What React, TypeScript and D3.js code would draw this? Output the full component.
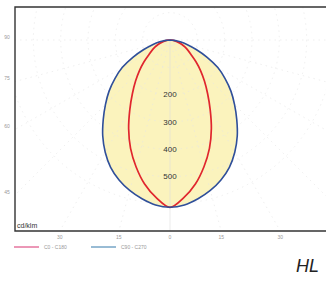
import * as d3 from 'd3';
import React, { useEffect, useRef } from 'react';

// gamma angles (deg) and intensities (cd/klm)
const gammas = [0, 5, 10, 15, 20, 25, 30, 35, 40, 45, 50, 55, 60, 65, 70, 75, 80, 85, 90];
const c0c180 = [612, 579, 535, 480, 422, 358, 294, 240, 196, 158, 124, 95, 76, 60, 45, 30, 18, 8, 0];
const c90c270 = [612, 606, 590, 570, 545, 514, 474, 429, 380, 334, 291, 246, 202, 150, 102, 66, 38, 15, 0];
const ringValues = [100, 200, 300, 400, 500, 600];
const ringLabels = [200, 300, 400, 500];
const leftAngles = [90, 75, 60, 45];
const bottomAngles = [-30, -15, 0, 15, 30];
const legendItems = ['C0 - C180', 'C90 - C270'];

const App = () => {
  const ref = useRef<SVGSVGElement>(null);

  useEffect(() => {
    const width = 326, height = 282;
    const frame = { left: 15, top: 7, right: 326, bottom: 231 };
    const cx = 170, cy = 40;

    const svg = d3.select(ref.current);
    svg.selectAll('*').remove();
    svg.attr('width', width).attr('height', height);

    const r = d3.scaleLinear().domain([0, 600]).range([0, 164]);
    const rad = (deg: number) => (deg * Math.PI) / 180;

    svg.append('clipPath').attr('id', 'frameClip')
      .append('rect')
      .attr('x', frame.left).attr('y', frame.top)
      .attr('width', frame.right - frame.left).attr('height', frame.bottom - frame.top);

    const g = svg.append('g').attr('clip-path', 'url(#frameClip)');
    const c = g.append('g').attr('transform', `translate(${cx},${cy})`);

    // closed outline: right half 90 -> 0, then left half 0 -> 90
    const closed = (vals: number[]) => {
      const pts: [number, number][] = [];
      for (let i = gammas.length - 1; i >= 0; i--) pts.push([Math.PI - rad(gammas[i]), r(vals[i])]);
      for (let i = 1; i < gammas.length; i++) pts.push([Math.PI + rad(gammas[i]), r(vals[i])]);
      return pts;
    };
    const line = d3.lineRadial<[number, number]>()
      .angle(d => d[0]).radius(d => d[1])
      .curve(d3.curveCatmullRom.alpha(0.5));

    c.append('path').attr('d', line(closed(c90c270))).attr('fill', '#fbf3bd').attr('stroke', 'none');

    // grid
    c.selectAll('.ring').data(ringValues).join('circle')
      .attr('r', d => r(d)).attr('fill', 'none')
      .attr('stroke', '#e4e4e4').attr('stroke-width', 0.6).attr('stroke-dasharray', '1.5,4');
    const spokes = d3.range(-90, 91, 15);
    c.selectAll('.spoke').data(spokes).join('line')
      .attr('x1', 0).attr('y1', 0)
      .attr('x2', d => Math.sin(rad(d)) * 400).attr('y2', d => Math.cos(rad(d)) * 400)
      .attr('stroke', d => d === 0 ? '#dedede' : '#e4e4e4').attr('stroke-width', 0.6)
      .attr('stroke-dasharray', d => d === 0 ? null : '1.5,4');

    c.append('path').attr('d', line(closed(c0c180))).attr('fill', 'none')
      .attr('stroke', '#e0262e').attr('stroke-width', 1.7);
    c.append('path').attr('d', line(closed(c90c270))).attr('fill', 'none')
      .attr('stroke', '#2f4f9a').attr('stroke-width', 1.6);

    c.selectAll('.rl').data(ringLabels).join('text')
      .attr('x', 0).attr('y', d => r(d)).attr('dy', '0.35em')
      .attr('text-anchor', 'middle').attr('font-family', 'Liberation Sans, Arial, sans-serif')
      .attr('font-size', 8).attr('fill', '#333').text(d => d);

    // frame
    svg.append('path')
      .attr('d', `M${frame.right},${frame.top}H${frame.left}V${frame.bottom}H${frame.right}`)
      .attr('fill', 'none').attr('stroke', '#333').attr('stroke-width', 1.4);

    svg.append('text').attr('x', 17).attr('y', 228)
      .attr('font-family', 'Liberation Sans, Arial, sans-serif').attr('font-size', 7).attr('fill', '#333')
      .text('cd/klm');

    // angle labels
    svg.selectAll('.la').data(leftAngles).join('text')
      .attr('x', 7).attr('y', d => cy + (cx - frame.left) / Math.tan(rad(d === 90 ? 89.999 : d)) - 3)
      .attr('dy', '0.35em').attr('text-anchor', 'middle')
      .attr('font-family', 'Liberation Sans, Arial, sans-serif').attr('font-size', 5).attr('fill', '#999')
      .text(d => d);
    svg.selectAll('.ba').data(bottomAngles).join('text')
      .attr('x', d => cx + Math.tan(rad(d)) * (frame.bottom - cy)).attr('y', 239)
      .attr('text-anchor', 'middle')
      .attr('font-family', 'Liberation Sans, Arial, sans-serif').attr('font-size', 5).attr('fill', '#999')
      .text(d => Math.abs(d));

    // legend
    const colors = ['#d8306e', '#3278aa'];
    const lg = svg.selectAll('.lg').data(legendItems).join('g')
      .attr('transform', (d, i) => `translate(${14 + i * 77},247)`);
    lg.append('line').attr('x1', 0).attr('x2', 25).attr('y1', 0).attr('y2', 0)
      .attr('stroke', (d, i) => colors[i]).attr('stroke-width', 1);
    lg.append('text').attr('x', 30).attr('y', 0).attr('dy', '0.35em')
      .attr('font-family', 'Liberation Sans, Arial, sans-serif').attr('font-size', 5).attr('fill', '#999')
      .text(d => d);

    svg.append('text').attr('x', 296).attr('y', 272)
      .attr('font-family', 'Liberation Sans, Arial, sans-serif').attr('font-size', 18)
      .attr('font-style', 'italic').attr('fill', '#222').text('HL');
  }, []);

  return <svg ref={ref} style={{ position: 'absolute', left: 0, top: 0 }} />;
};

export default App;
